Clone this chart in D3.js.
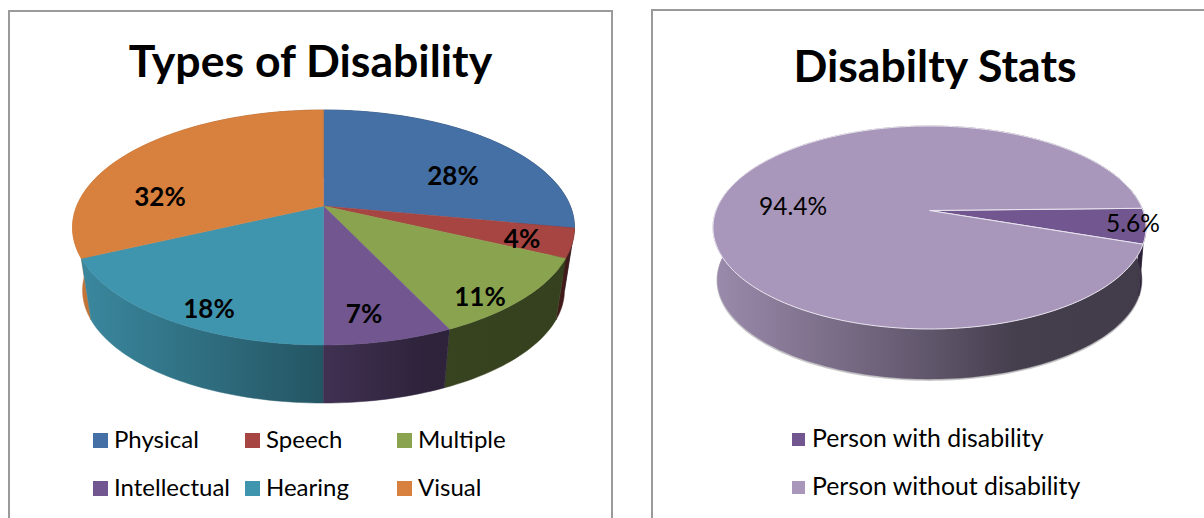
<!DOCTYPE html>
<meta charset="utf-8">
<style>
  body { margin:0; background:#fff; overflow:hidden; }
  text { font-family:Lato, "Open Sans", sans-serif; fill:#000; }
</style>
<svg width="1204" height="518"></svg>
<script src="https://d3js.org/d3.v7.min.js"></script>
<script>

// data
var typeNames = ["Physical", "Speech", "Multiple", "Intellectual", "Hearing", "Visual"];
var typeValues = [28, 4, 11, 7, 18, 32];
var typeColors = ["#4470a6", "#a64542", "#89a34e", "#71568f", "#4095ae", "#d8803d"];

var statNames = ["Person with disability", "Person without disability"];
var statValues = [5.6, 94.4];
var statColors = ["#71568f", "#a897bb"];

var svg = d3.select("svg");
var defs = svg.append("defs");

// how much the side wall darkens going left to right
var shade = d3.scaleLinear().domain([0, 0.5, 0.7, 1]).range([0.92, 0.57, 0.41, 0.39]);

function frame(x1, x2, y) {
  svg.append("path")
    .attr("d", "M" + x1 + ",518V" + y + "H" + x2 + (x2 < 1204 ? "V518" : ""))
    .attr("fill", "none")
    .attr("stroke", "#9a9a9a")
    .attr("stroke-width", 2);
}

function drawPie(o) {
  var slices = d3.pie().sort(null).startAngle(o.start).endAngle(o.start + 2 * Math.PI)(o.values);
  var k = (o.up - o.down) / (o.up + o.down);
  var b = o.up * (1 - k);
  var a = o.rx * Math.sqrt(1 - k * k);

  // circle to tilted ellipse, the centre lands off the ellipse centre like Excel's perspective
  function rim(t, wall) {
    var u = Math.sin(t), v = -Math.cos(t), w = 1 + k * v;
    var s = wall ? o.wallScale : 1;
    return [o.cx + s * a * u / w, (wall ? o.cy2 : o.cy) + s * b * v / w];
  }
  function arcPts(t0, t1, wall) {
    var n = Math.max(2, Math.ceil((t1 - t0) * 40));
    return d3.range(n + 1).map(function(i) { return rim(t0 + (t1 - t0) * i / n, wall); });
  }
  var line = d3.line();
  var g = svg.append("g");

  if (o.halo) {
    g.append("path")
      .attr("d", line(arcPts(0, 2 * Math.PI, true)) + "Z")
      .attr("transform", "translate(0,1)")
      .attr("fill", "none")
      .attr("stroke", "#c8c8c8")
      .attr("stroke-width", 1.5);
  }

  // side walls, back ones first
  var order = slices.slice().sort(function(p, q) {
    return -Math.cos((p.startAngle + p.endAngle) / 2) - -Math.cos((q.startAngle + q.endAngle) / 2);
  });
  order.forEach(function(d) {
    var id = o.id + "-wall-" + d.index;
    var base = d3.rgb(o.colors[d.index]);
    var grad = defs.append("linearGradient")
      .attr("id", id)
      .attr("gradientUnits", "userSpaceOnUse")
      .attr("x1", o.cx - o.rx).attr("x2", o.cx + o.rx)
      .attr("y1", 0).attr("y2", 0);
    shade.domain().forEach(function(t) {
      var f = shade(t);
      grad.append("stop")
        .attr("offset", t)
        .attr("stop-color", d3.rgb(base.r * f, base.g * f, base.b * f).formatHex());
    });
    var pts = arcPts(d.startAngle, d.endAngle, false).concat(arcPts(d.startAngle, d.endAngle, true).reverse());
    g.append("path")
      .attr("d", line(pts) + "Z")
      .attr("fill", "url(#" + id + ")")
      .attr("stroke", "url(#" + id + ")")
      .attr("stroke-width", 0.5);
  });

  // top faces
  g.selectAll(".top")
    .data(slices)
    .enter().append("path")
      .attr("class", "top")
      .attr("d", function(d) {
        return line([[o.cx, o.cy]].concat(arcPts(d.startAngle, d.endAngle, false))) + "Z";
      })
      .attr("fill", function(d) { return o.colors[d.index]; })
      .attr("stroke", o.sliceStroke || function(d) { return o.colors[d.index]; })
      .attr("stroke-width", o.sliceStroke ? 1 : 0.5);

  // value labels
  g.selectAll(".value")
    .data(slices)
    .enter().append("text")
      .attr("class", "value")
      .attr("x", function(d) { return o.labelAt[d.index][0]; })
      .attr("y", function(d) { return o.labelAt[d.index][1]; })
      .attr("text-anchor", "middle")
      .attr("dy", "0.35em")
      .style("font-size", o.labelSize + "px")
      .style("font-weight", o.labelWeight)
      .text(function(d) { return o.labelFormat(d.value); });

  svg.append("text")
    .attr("x", o.titleX)
    .attr("y", o.titleY)
    .attr("text-anchor", "middle")
    .style("font-size", o.titleSize + "px")
    .style("font-weight", "bold")
    .text(o.title);

  var leg = svg.append("g").selectAll("g")
    .data(o.names)
    .enter().append("g")
      .attr("transform", function(d, i) { return "translate(" + o.legendAt[i][0] + "," + o.legendAt[i][1] + ")"; });
  leg.append("rect")
    .attr("width", o.swatch).attr("height", o.swatch)
    .attr("fill", function(d, i) { return o.colors[i]; });
  leg.append("text")
    .attr("x", o.swatch + o.legendGap)
    .attr("y", o.swatch + o.legendDrop)
    .style("font-size", o.legendSize + "px")
    .text(function(d) { return d; });
}

frame(9, 612, 11);
frame(652, 1204, 10);

drawPie({
  id: "types", title: "Types of Disability", names: typeNames, values: typeValues, colors: typeColors,
  start: 0, cx: 323.5, cy: 206, cy2: 269.6, up: 96, down: 139, rx: 251, wallScale: 0.96,
  labelFormat: function(v) { return v + "%"; }, labelSize: 26, labelWeight: "bold",
  labelAt: [[453, 176], [522, 239], [480, 297], [364, 314], [209, 309], [160, 197]],
  titleX: 310.5, titleY: 77, titleSize: 44.6,
  legendAt: [[93, 433], [245, 433], [397, 433], [93, 481], [245, 481], [397, 481]],
  swatch: 15, legendGap: 6, legendDrop: 0, legendSize: 24
});

drawPie({
  id: "stats", title: "Disabilty Stats", names: statNames, values: statValues, colors: statColors,
  start: 88.7 * Math.PI / 180, cx: 929.5, cy: 210.5, cy2: 263, up: 84.5, down: 118.5, rx: 216.5, wallScale: 0.98,
  halo: true, sliceStroke: "#e8e4ee",
  labelFormat: function(v) { return v + "%"; }, labelSize: 24.5, labelWeight: "normal",
  labelAt: [[1133, 223], [793, 206]],
  titleX: 935, titleY: 82, titleSize: 44.6,
  legendAt: [[792, 433], [792, 481]],
  swatch: 13, legendGap: 7, legendDrop: 1, legendSize: 24.8
});

</script>
